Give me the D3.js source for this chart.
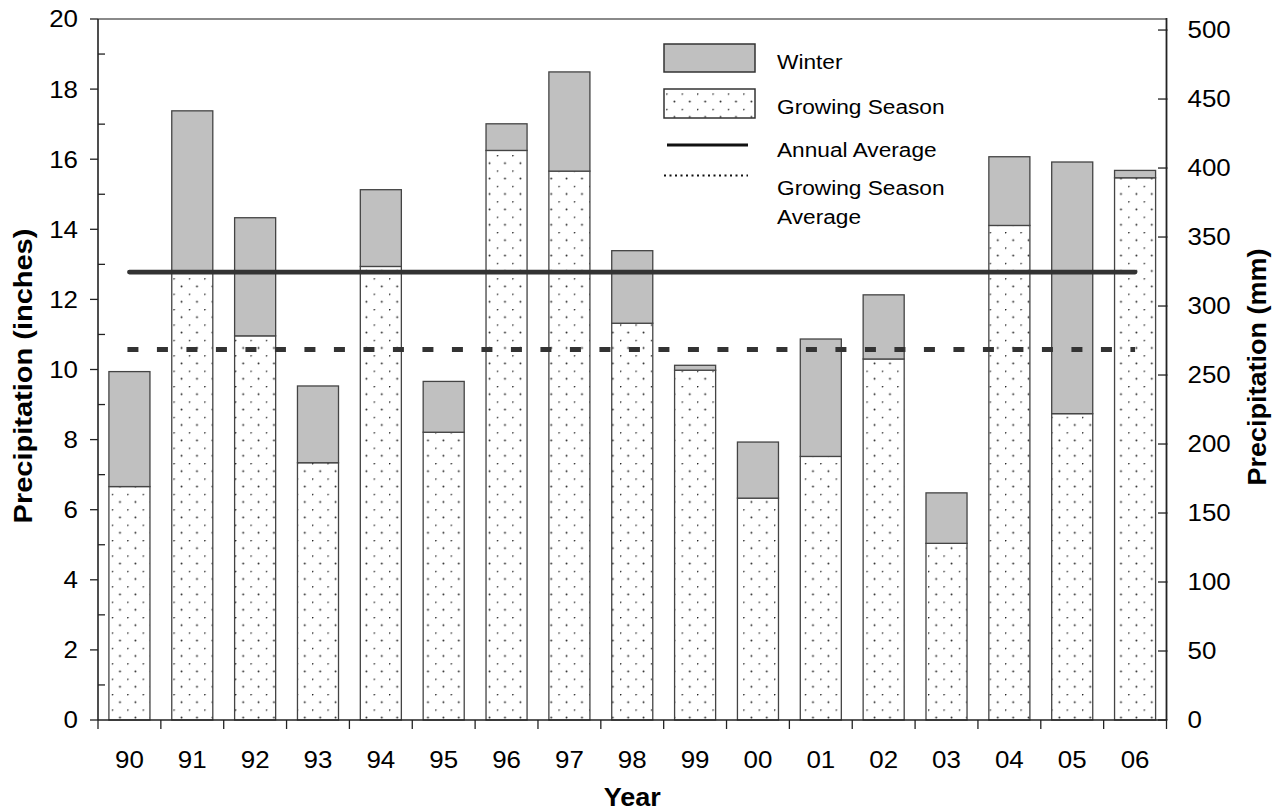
<!DOCTYPE html>
<html>
<head>
<meta charset="utf-8">
<script src="https://cdn.jsdelivr.net/npm/d3@7"></script>
<style>
  html, body { margin: 0; padding: 0; background: #fff; }
  svg { display: block; }
  text { font-family: "Liberation Sans", Arial, Helvetica, sans-serif; fill: #000; }
</style>
</head>
<body>
<svg id="chart" width="1283" height="811"></svg>
<script>
// ---------------- data ----------------
const years = ["90","91","92","93","94","95","96","97","98","99","00","01","02","03","04","05","06"];
const growingSeason = [6.66, 12.78, 10.96, 7.34, 12.94, 8.21, 16.25, 15.66, 11.32, 9.98, 6.33, 7.52, 10.30, 5.04, 14.11, 8.74, 15.47];
const winter        = [3.28, 4.60, 3.37, 2.19, 2.19, 1.45, 0.76, 2.83, 2.07, 0.14, 1.60, 3.35, 1.83, 1.44, 1.96, 7.18, 0.21];
const annualAverage = 12.78;
const growingSeasonAverage = 10.57;
const inchTicks = [0, 2, 4, 6, 8, 10, 12, 14, 16, 18, 20];
const inchMinorTicks = [1, 3, 5, 7, 9, 11, 13, 15, 17, 19];
const mmTicks = [0, 50, 100, 150, 200, 250, 300, 350, 400, 450, 500];
const legendLabels = ["Winter", "Growing Season", "Annual Average", "Growing Season|Average"];

// ---------------- layout ----------------
const L = 98, R = 1166.5, T = 19, B = 720;
const SX = 1.08; // horizontal glyph stretch of the reference font
const svg = d3.select("#chart");

const x = d3.scaleBand().domain(years).range([L, R]).paddingInner(0.347).paddingOuter(0.1735);
const y = d3.scaleLinear().domain([0, 20]).range([B, T]);
const yMM = d3.scaleLinear().domain([0, 20 * 25.4]).range([B, T]);
const step = x.step();
const gapHalf = (step - x.bandwidth()) / 2;

// dot pattern
const defs = svg.append("defs");
const pat = defs.append("pattern").attr("id", "dots").attr("patternUnits", "userSpaceOnUse")
  .attr("width", 15.4).attr("height", 15.4).attr("x", 4).attr("y", 1);
pat.append("rect").attr("width", 15.4).attr("height", 15.4).attr("fill", "#fff");
pat.append("circle").attr("cx", 0.5).attr("cy", 0.5).attr("r", 0.95).attr("fill", "#222");
pat.append("circle").attr("cx", 8.2).attr("cy", 8.2).attr("r", 0.95).attr("fill", "#222");

function label(g, tx, ty, s, o = {}) {
  const sx = o.sx || SX;
  const t = g.append("text")
    .attr("transform", `translate(${tx},${ty})${o.rotate ? " rotate(-90)" : ""} scale(${sx},1)`)
    .attr("text-anchor", o.anchor || "start")
    .style("font-size", (o.size || 24) + "px")
    .style("font-weight", o.bold ? "bold" : "normal")
    .text(s);
  if (o.dy) t.attr("dy", o.dy);
  return t;
}

// ---------------- bars ----------------
const gBars = svg.append("g");
years.forEach((yr, i) => {
  const g0 = growingSeason[i], w0 = winter[i];
  gBars.append("rect")
    .attr("x", x(yr)).attr("width", x.bandwidth())
    .attr("y", y(g0)).attr("height", y(0) - y(g0))
    .attr("fill", "url(#dots)").attr("stroke", "#444").attr("stroke-width", 1.3);
  gBars.append("rect")
    .attr("x", x(yr)).attr("width", x.bandwidth())
    .attr("y", y(g0 + w0)).attr("height", y(g0) - y(g0 + w0))
    .attr("fill", "#c0c0c0").attr("stroke", "#444").attr("stroke-width", 1.3);
});

// ---------------- average lines ----------------
const xStart = x(years[0]) + x.bandwidth() / 2;
const xEnd = x(years[years.length - 1]) + x.bandwidth() / 2;
svg.append("line").attr("x1", xStart).attr("x2", xEnd)
  .attr("y1", y(annualAverage)).attr("y2", y(annualAverage))
  .attr("stroke", "#333").attr("stroke-width", 4.7).attr("stroke-linecap", "round");
svg.append("line").attr("x1", xStart - 2).attr("x2", xEnd)
  .attr("y1", y(growingSeasonAverage)).attr("y2", y(growingSeasonAverage))
  .attr("stroke", "#333").attr("stroke-width", 5).attr("stroke-dasharray", "11,18.5");

// ---------------- frame & axes ----------------
svg.append("line").attr("x1", L).attr("x2", R).attr("y1", T).attr("y2", T)
  .attr("stroke", "#8a8a8a").attr("stroke-width", 2);
svg.append("line").attr("x1", L).attr("x2", L).attr("y1", T).attr("y2", B)
  .attr("stroke", "#222").attr("stroke-width", 1.6);
svg.append("line").attr("x1", R).attr("x2", R).attr("y1", T - 1).attr("y2", B)
  .attr("stroke", "#222").attr("stroke-width", 1.8);
svg.append("line").attr("x1", L).attr("x2", R).attr("y1", B).attr("y2", B)
  .attr("stroke", "#222").attr("stroke-width", 1.6);

const gAx = svg.append("g");
// left major ticks (outward) and labels
inchTicks.forEach(v => {
  gAx.append("line").attr("x1", 90).attr("x2", L).attr("y1", y(v)).attr("y2", y(v))
    .attr("stroke", "#222").attr("stroke-width", 1.3);
  label(gAx, 78, y(v), String(v), { anchor: "end", size: 24, dy: "0.35em" });
});
// left minor ticks (inward)
inchMinorTicks.forEach(v => {
  gAx.append("line").attr("x1", L).attr("x2", 105).attr("y1", y(v)).attr("y2", y(v))
    .attr("stroke", "#222").attr("stroke-width", 1.3);
});
// right ticks (inward) and labels
mmTicks.forEach(v => {
  gAx.append("line").attr("x1", 1158).attr("x2", R + 1).attr("y1", yMM(v)).attr("y2", yMM(v))
    .attr("stroke", "#222").attr("stroke-width", 1.3);
  label(gAx, 1187.5, yMM(v), String(v), { anchor: "start", size: 24, dy: "0.35em" });
});
// bottom ticks at category boundaries and labels
years.forEach((yr, i) => {
  const bx = x(yr) - gapHalf;
  gAx.append("line").attr("x1", bx).attr("x2", bx).attr("y1", B).attr("y2", B + 9)
    .attr("stroke", "#222").attr("stroke-width", 1.3);
  label(gAx, x(yr) + x.bandwidth() / 2, 768, yr, { anchor: "middle", size: 24 });
});
{
  const bx = x(years[years.length - 1]) + x.bandwidth() + gapHalf;
  gAx.append("line").attr("x1", bx).attr("x2", bx).attr("y1", B).attr("y2", B + 9)
    .attr("stroke", "#222").attr("stroke-width", 1.3);
}

// axis titles
label(svg, (L + R) / 2, 806, "Year", { anchor: "middle", size: 25, bold: true });
label(svg, 32, 376, "Precipitation (inches)", { anchor: "middle", size: 25, bold: true, rotate: true, sx: 1.16 });
label(svg, 1266, 367, "Precipitation (mm)", { anchor: "middle", size: 25, bold: true, rotate: true });

// ---------------- legend ----------------
const gL = svg.append("g");
gL.append("rect").attr("x", 664).attr("y", 44).attr("width", 91).attr("height", 28)
  .attr("fill", "#c0c0c0").attr("stroke", "#333").attr("stroke-width", 1.5);
gL.append("rect").attr("x", 664).attr("y", 89).attr("width", 91).attr("height", 29)
  .attr("fill", "url(#dots)").attr("stroke", "#333").attr("stroke-width", 1.5);
gL.append("line").attr("x1", 667).attr("x2", 748).attr("y1", 145).attr("y2", 145)
  .attr("stroke", "#111").attr("stroke-width", 3);
gL.append("line").attr("x1", 664).attr("x2", 748).attr("y1", 175.5).attr("y2", 175.5)
  .attr("stroke", "#111").attr("stroke-width", 2).attr("stroke-dasharray", "2,3.5");

const legendBaselines = [69, 114, 157, 195];
legendLabels.forEach((s, i) => {
  const parts = s.split("|");
  parts.forEach((p, j) => {
    label(gL, 777, legendBaselines[i] + j * 29, p, { anchor: "start", size: 21 });
  });
});
</script>
</body>
</html>
